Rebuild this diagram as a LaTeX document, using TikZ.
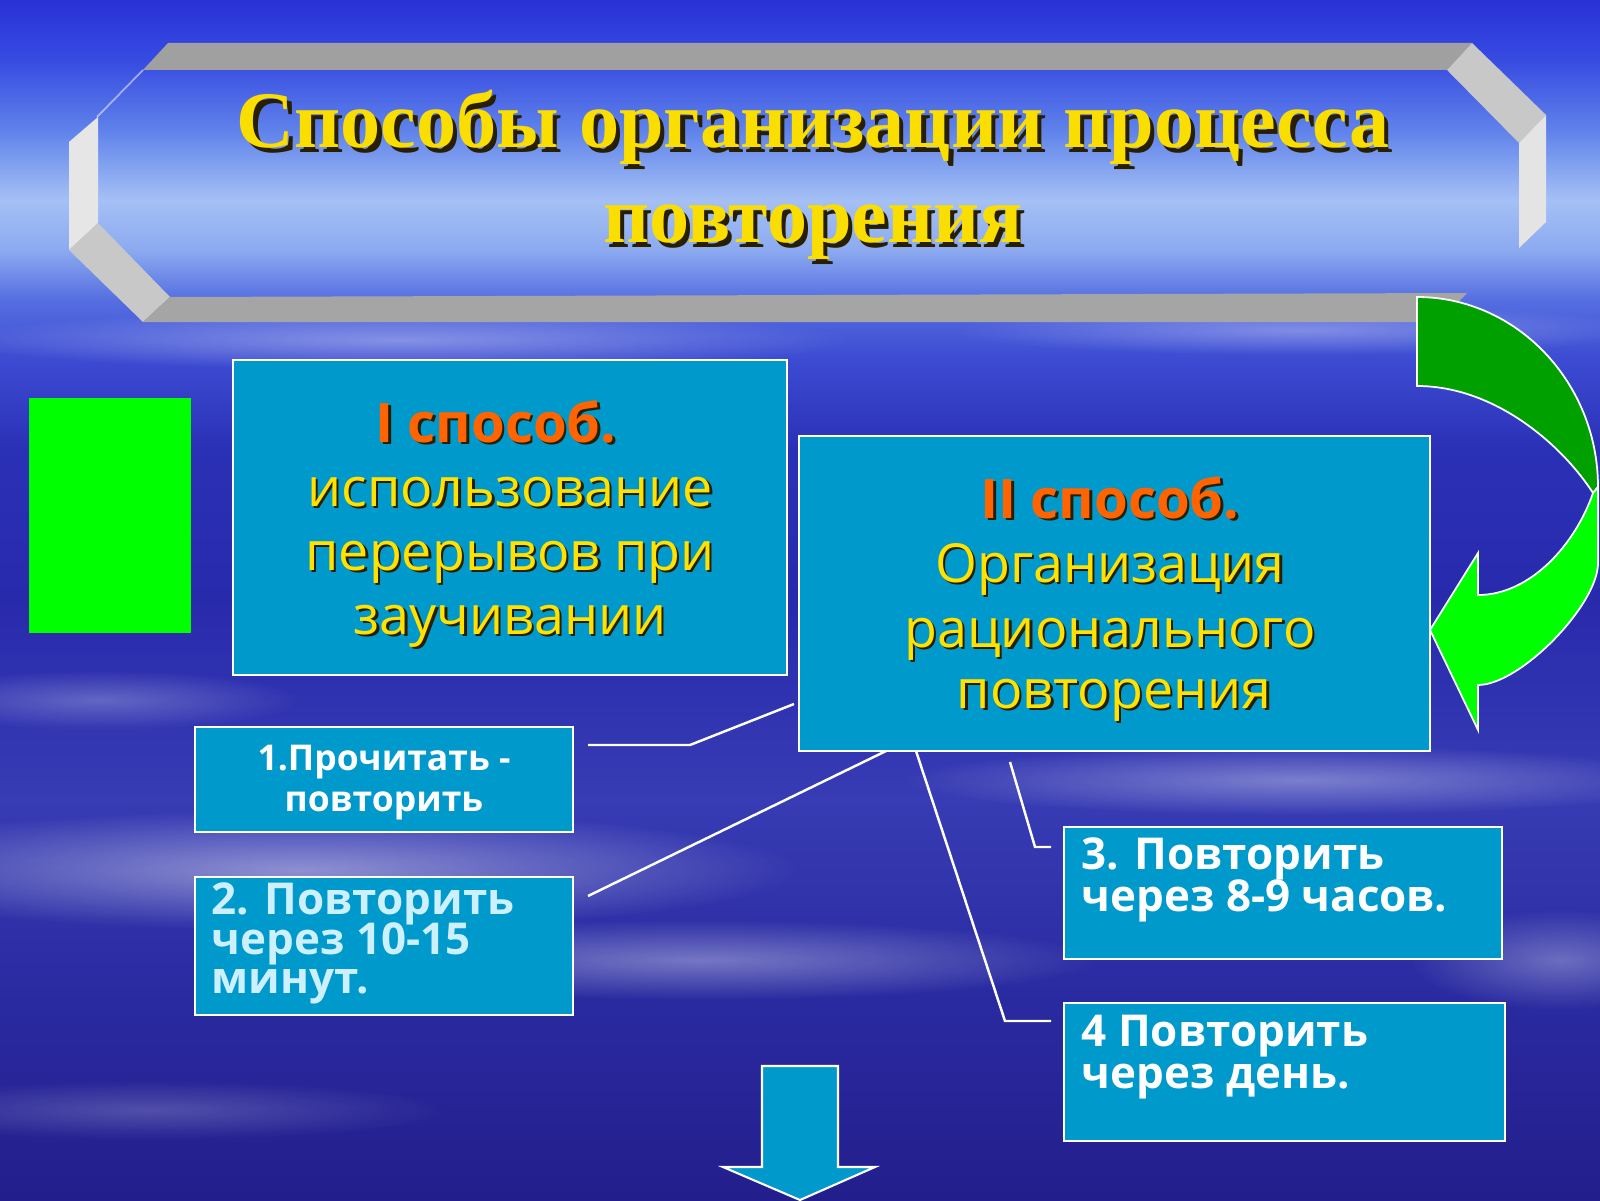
\documentclass[tikz,border=0pt]{standalone}
\usepackage{fontspec}
\setmainfont{Open Sans}
\newfontfamily\titlefont{Liberation Serif}
\usetikzlibrary{fadings}
\tikzfading[name=softedge, inner color=transparent!0, outer color=transparent!100]

\definecolor{boxc}{RGB}{0,153,204}
\definecolor{ylw}{RGB}{255,226,0}
\definecolor{org}{RGB}{255,100,0}
\definecolor{ttl}{RGB}{250,222,0}
\definecolor{lcy}{RGB}{205,240,255}
\definecolor{shd}{RGB}{40,30,0}
\definecolor{dkgreen}{RGB}{0,160,0}
\definecolor{brgreen}{RGB}{0,255,0}
\definecolor{bgA}{RGB}{35,30,140}
\definecolor{bgB}{RGB}{42,42,160}
\definecolor{bgC}{RGB}{55,60,180}
\definecolor{bgD}{RGB}{40,42,172}
\definecolor{bgE}{RGB}{42,48,182}
\definecolor{bgF}{RGB}{60,75,210}
\definecolor{bgG}{RGB}{85,110,225}
\definecolor{bgH}{RGB}{140,170,240}
\definecolor{bgI}{RGB}{165,192,245}
\definecolor{bgJ}{RGB}{95,130,235}
\definecolor{bgK}{RGB}{55,75,225}
\definecolor{bgL}{RGB}{40,50,215}
\pgfdeclareverticalshading{skybg}{100bp}{color(0bp)=(bgA); color(25bp)=(bgA);
 color(33.33bp)=(bgB); color(41.67bp)=(bgC); color(50bp)=(bgD); color(56.25bp)=(bgE);
 color(60bp)=(bgF); color(62.5bp)=(bgG); color(64.58bp)=(bgH); color(66.67bp)=(bgI);
 color(69.58bp)=(bgJ); color(72.5bp)=(bgK); color(75bp)=(bgL); color(100bp)=(bgL)}

\newcommand\shadowed[3]{\leavevmode\rlap{\hspace{#2}\raisebox{-#2}[0pt][0pt]{\color{shd}#3}}{\color{#1}#3}}

\tikzset{
  box/.style={draw=white, line width=0.6pt, fill=boxc, rectangle, inner sep=0pt},
  link/.style={draw=white, line width=0.7pt},
  bevel/.style={draw=none},
  cloud/.style={fill=white, path fading=softedge},
  titletxt/.style={anchor=base, inner sep=0pt, font=\titlefont\bfseries\fontsize{22.8}{27}\selectfont},
  headtxt/.style={anchor=base, inner sep=0pt, font=\bfseries\fontsize{15.5}{18}\selectfont},
  bodytxt/.style={anchor=base, inner sep=0pt, font=\fontsize{15.3}{18}\selectfont},
  smalltxt/.style={anchor=base, inner sep=0pt, text=white, font=\bfseries\fontsize{10.1}{12}\selectfont},
  steptxt/.style={anchor=base west, inner sep=0pt, font=\bfseries\fontsize{12.5}{14}\selectfont},
}

\begin{document}
\begin{tikzpicture}
\useasboundingbox (0,0) rectangle (16,12);
% sky
\fill[shading=skybg] (0,0) rectangle (16,12);
\fill[cloud, opacity=0.35] (4.0,8.6) ellipse (4.5 and 0.3);
\fill[cloud, opacity=0.30] (13.0,8.7) ellipse (3.5 and 0.25);
\fill[cloud, opacity=0.45] (3.0,3.3) ellipse (5.0 and 0.6);
\fill[cloud, opacity=0.35] (7.0,2.4) ellipse (4.0 and 0.4);
\fill[cloud, opacity=0.35] (13.0,4.2) ellipse (4.0 and 0.35);
\fill[cloud, opacity=0.30] (15.6,2.4) ellipse (1.5 and 0.5);
\fill[cloud, opacity=0.20] (1.5,0.9) ellipse (3.0 and 0.3);
\fill[cloud, opacity=0.25] (1.0,5.0) ellipse (2.0 and 0.3);

% title frame bevels
\fill[bevel, fill={rgb,255:red,160;green,160;blue,160}] (1.68,11.57) -- (14.72,11.57) -- (14.47,11.30) -- (1.43,11.30) -- cycle;
\fill[bevel, fill={rgb,255:red,200;green,200;blue,200}] (14.47,11.30) -- (14.72,11.57) -- (15.46,10.85) -- (15.19,10.57) -- cycle;
\fill[bevel, fill={rgb,255:red,228;green,228;blue,228}] (15.19,10.57) -- (15.46,10.85) -- (15.46,9.78) -- (15.19,9.52) -- cycle;
\fill[bevel, fill={rgb,255:red,230;green,230;blue,230}] (0.69,10.58) -- (0.98,10.83) -- (0.98,9.77) -- (0.69,9.50) -- cycle;
\fill[bevel, fill={rgb,255:red,200;green,200;blue,200}] (0.98,9.77) -- (1.70,9.03) -- (1.43,8.78) -- (0.69,9.50) -- cycle;
\fill[bevel, fill={rgb,255:red,165;green,165;blue,165}] (1.70,9.03) -- (14.67,9.07) -- (14.40,8.78) -- (1.43,8.78) -- cycle;
\draw[white, opacity=0.5, line width=0.5pt] (1.43,11.30) -- (0.97,10.83);

% title
\node[titletxt] (title1) at (8.13,10.52) {\shadowed{ttl}{1.2pt}{Способы организации процесса}};
\node[titletxt] (title2) at (8.13,9.57) {\shadowed{ttl}{1.2pt}{повторения}};

% green curved arrow
\filldraw[fill=dkgreen, draw=white, line width=0.5pt] (14.17,9.03) .. controls (15.17,9.03) and (15.98,8.17) .. (15.98,7.13) -- (15.93,7.07) .. controls (15.62,7.55) and (14.95,8.14) .. (14.17,8.14) -- cycle;
\filldraw[fill=brgreen, draw=white, line width=0.5pt] (15.93,7.07) .. controls (15.75,6.55) and (15.3,6.05) .. (14.78,6.05) -- (14.78,6.47) -- (14.30,5.70) -- (14.78,4.70) -- (14.78,5.15) .. controls (15.2,5.15) and (15.98,5.95) .. (15.98,6.37) -- (15.98,7.13) -- cycle;

% green rectangle
\node[rectangle, fill=brgreen, minimum width=1.62cm, minimum height=2.35cm, inner sep=0pt] (greenbox) at (1.10,6.845) {};

% main boxes
\node[box, minimum width=5.54cm, minimum height=3.15cm] (m1) at (5.10,6.825) {};
\node[box, minimum width=6.31cm, minimum height=3.15cm] (m2) at (11.145,6.065) {};
\node[box, minimum width=3.78cm, minimum height=1.05cm] (s1) at (3.84,4.205) {};
\node[box, minimum width=3.78cm, minimum height=1.38cm] (s2) at (3.84,2.54) {};
\node[box, minimum width=4.38cm, minimum height=1.32cm] (s3) at (12.83,3.07) {};
\node[box, minimum width=4.41cm, minimum height=1.38cm] (s4) at (12.845,1.28) {};

% texts of box I
\node[headtxt] (m1a) at (4.96,7.58) {\shadowed{org}{0.7pt}{I способ.}};
\node[bodytxt] (m1b) at (5.10,6.94) {\shadowed{ylw}{0.7pt}{использование}};
\node[bodytxt] (m1c) at (5.10,6.30) {\shadowed{ylw}{0.7pt}{перерывов при}};
\node[bodytxt] (m1d) at (5.10,5.66) {\shadowed{ylw}{0.7pt}{заучивании}};
% texts of box II
\node[headtxt] (m2a) at (11.10,6.82) {\shadowed{org}{0.7pt}{II способ.}};
\node[bodytxt] (m2b) at (11.10,6.18) {\shadowed{ylw}{0.7pt}{Организация}};
\node[bodytxt] (m2c) at (11.10,5.53) {\shadowed{ylw}{0.7pt}{рационального}};
\node[bodytxt] (m2d) at (11.14,4.92) {\shadowed{ylw}{0.7pt}{повторения}};

% small boxes
\node[smalltxt] (s1a) at (3.84,4.30) {1.Прочитать -};
\node[smalltxt] (s1b) at (3.84,3.89) {повторить};
\node[steptxt, text=lcy] (s2a) at (2.11,2.86) {2. Повторить};
\node[steptxt, text=lcy] (s2b) at (2.11,2.46) {через 10-15};
\node[steptxt, text=lcy] (s2c) at (2.11,2.07) {минут.};
\node[steptxt, text=white] (s3a) at (10.81,3.31) {3. Повторить};
\node[steptxt, text=white] (s3b) at (10.81,2.89) {через 8-9 часов.};
\node[steptxt, text=white] (s4a) at (10.81,1.54) {4 Повторить};
\node[steptxt, text=white] (s4b) at (10.81,1.12) {через день.};

% connectors
\coordinate (c1a) at (5.88,4.55);
\coordinate (c1b) at (6.90,4.55);
\coordinate (c1c) at (7.94,4.96);
\coordinate (c2a) at (5.88,3.04);
\coordinate (c2b) at (8.86,4.49);
\coordinate (c3a) at (9.16,4.49);
\coordinate (c3b) at (10.05,1.79);
\coordinate (c3c) at (10.51,1.79);
\coordinate (c4a) at (10.10,4.38);
\coordinate (c4b) at (10.35,3.53);
\coordinate (c4c) at (10.51,3.53);
\draw[link] (c1a) -- (c1b) -- (c1c);
\draw[link] (c2a) -- (c2b);
\draw[link] (c3a) -- (c3b) -- (c3c);
\draw[link] (c4a) -- (c4b) -- (c4c);

% down arrow
\filldraw[fill=boxc, draw=white, line width=0.6pt] (7.62,1.34) -- (8.38,1.34) -- (8.38,0.33) -- (8.75,0.33) -- (8.00,0.0) -- (7.23,0.33) -- (7.62,0.33) -- cycle;
\end{tikzpicture}
\end{document}
